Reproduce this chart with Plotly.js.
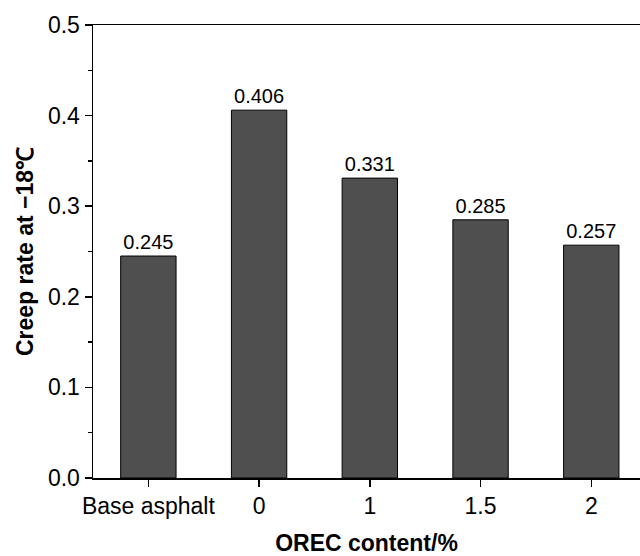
<!DOCTYPE html>
<html>
<head>
<meta charset="utf-8">
<script src="https://cdn.plot.ly/plotly-3.0.1.min.js"></script>
<style>
  html, body { margin: 0; padding: 0; background: #ffffff; }
  #chart { width: 640px; height: 556px; }
</style>
</head>
<body>
<div id="chart"></div>
<script>
// Creep rate of the binders at -18 °C for each OREC dosage
const categories = ['Base asphalt', '0', '1', '1.5', '2'];
const creepRate = [0.245, 0.406, 0.331, 0.285, 0.257];
const yTickValues = [0, 0.1, 0.2, 0.3, 0.4, 0.5];
const yTickLabels = ['0.0', '0.1', '0.2', '0.3', '0.4', '0.5'];

const fontFamily = 'Arial, "Liberation Sans", Helvetica, sans-serif';

const trace = {
  type: 'bar',
  x: categories,
  y: creepRate,
  width: 0.5,
  marker: { color: '#4f4f4f', line: { color: '#000000', width: 1 } },
  text: creepRate.map(v => v.toFixed(3)),
  textposition: 'outside',
  cliponaxis: false,
  textfont: { family: fontFamily, size: 20, color: '#000000' },
  hoverinfo: 'x+y'
};

const layout = {
  width: 640,
  height: 556,
  margin: { l: 93, r: 0, t: 25, b: 78 },
  paper_bgcolor: '#ffffff',
  plot_bgcolor: '#ffffff',
  showlegend: false,
  font: { family: fontFamily, color: '#000000' },
  xaxis: {
    type: 'category',
    range: [-0.5, 4.44],
    showline: true,
    linecolor: '#000000',
    linewidth: 1.5,
    mirror: true,
    ticks: 'outside',
    ticklen: 7,
    tickwidth: 1.5,
    tickcolor: '#000000',
    tickfont: { family: fontFamily, size: 23, color: '#000000' },
    showgrid: false,
    zeroline: false,
    title: {
      text: '<b>OREC content/%</b>',
      font: { family: fontFamily, size: 23, color: '#000000' },
      standoff: 19
    }
  },
  yaxis: {
    range: [0, 0.5],
    tickvals: yTickValues,
    ticktext: yTickLabels,
    showline: true,
    linecolor: '#000000',
    linewidth: 1.5,
    ticks: 'outside',
    ticklen: 7,
    tickwidth: 1.5,
    tickcolor: '#000000',
    tickfont: { family: fontFamily, size: 23, color: '#000000' },
    minor: { dtick: 0.05, ticks: 'outside', ticklen: 4, tickwidth: 1.5, tickcolor: '#000000', showgrid: false },
    showgrid: false,
    zeroline: false,
    title: {
      text: '<b>Creep rate at \u221218\u2103</b>',
      font: { family: fontFamily, size: 23, color: '#000000' },
      standoff: 8
    }
  }
};

Plotly.newPlot('chart', [trace], layout, { staticPlot: true, displayModeBar: false });
</script>
</body>
</html>
